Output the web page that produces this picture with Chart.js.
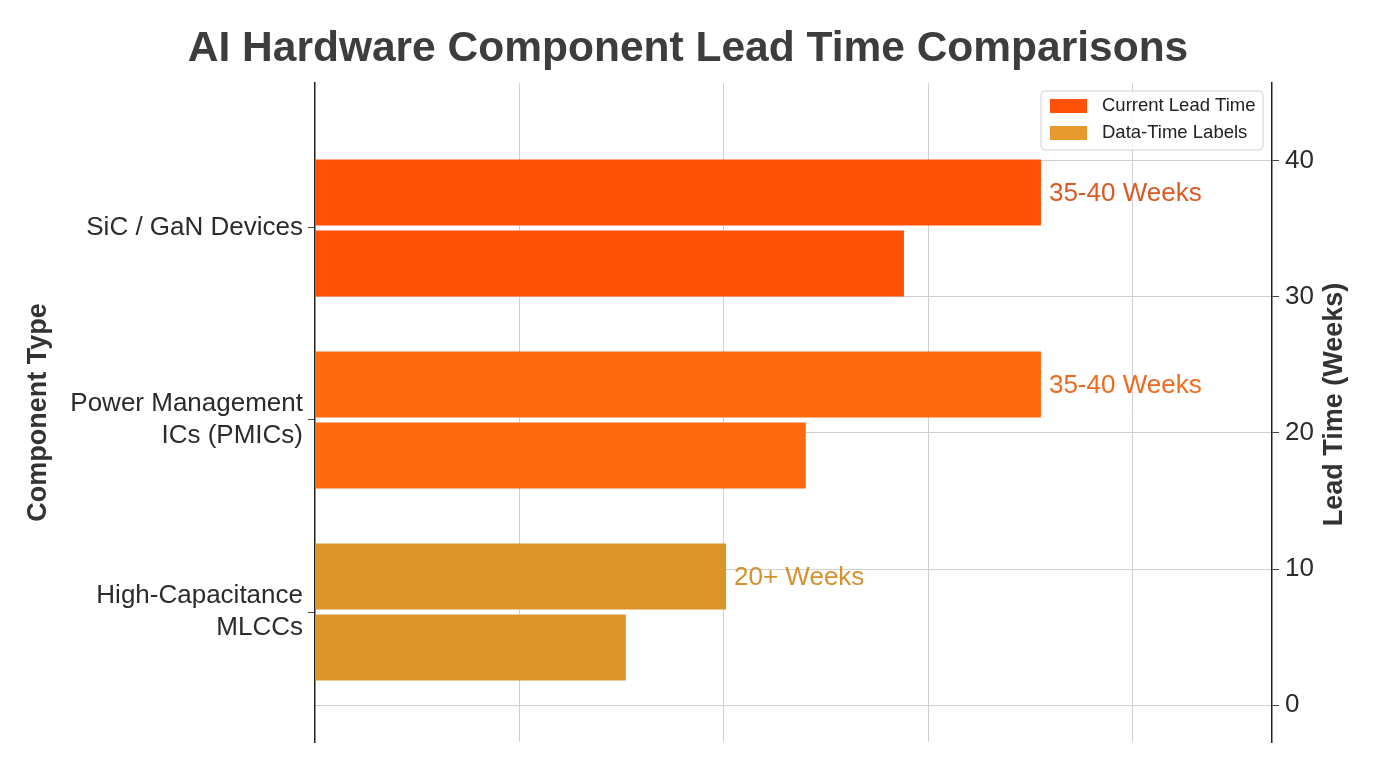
<!DOCTYPE html>
<html>
<head>
<meta charset="utf-8">
<script src="https://cdn.jsdelivr.net/npm/chart.js@4.4.1/dist/chart.umd.min.js"></script>
<style>
  html, body { margin: 0; padding: 0; background: #fff; }
  #wrap { width: 1376px; height: 768px; }
</style>
</head>
<body>
<div id="wrap"><canvas id="chart1"></canvas></div>
<script>
// values
const categories = ['SiC / GaN Devices', 'Power Management\nICs (PMICs)', 'High-Capacitance\nMLCCs'];
const currentLead = [35.5, 35.5, 20.1];
const dataTimeLead = [28.8, 24.0, 15.2];
const leadLabels = ['35-40 Weeks', '35-40 Weeks', '20+ Weeks'];
const weekTicks = [0, 10, 20, 30, 40];
const gridTicks = [10, 20, 30, 40];
const barColors = ['#FF5005', '#FF6A0D', '#DC9429'];
const labelColors = ['#DA5A22', '#EE6A1E', '#D4922E'];
const legendNames = ['Current Lead Time', 'Data-Time Labels'];
const legendColors = ['#FF5208', '#E69A2E'];

const FONT = '"Liberation Sans", Arial, Helvetica, sans-serif';

// extra text: value labels, legend box, right axis title
const extras = {
    id: 'extras',
    afterDatasetsDraw(chart) {
        const ctx = chart.ctx;
        const area = chart.chartArea;
        const meta = chart.getDatasetMeta(0);
        ctx.save();

        ctx.font = '26px ' + FONT;
        ctx.textBaseline = 'middle';
        ctx.textAlign = 'left';
        meta.data.forEach((bar, i) => {
            ctx.fillStyle = labelColors[i];
            ctx.fillText(leadLabels[i], bar.x + 8, bar.y + 1);
        });

        // legend
        const bw = 222, bh = 59;
        const bx = area.right - 9 - bw;
        const by = area.top + 8;
        ctx.beginPath();
        ctx.roundRect(bx, by, bw, bh, 4);
        ctx.fillStyle = 'rgba(255,255,255,0.85)';
        ctx.fill();
        ctx.strokeStyle = '#d2d2d2';
        ctx.lineWidth = 1;
        ctx.stroke();
        ctx.font = '18.5px ' + FONT;
        legendNames.forEach((name, i) => {
            const cy = by + 15 + i * 27;
            ctx.fillStyle = legendColors[i];
            ctx.fillRect(bx + 9, cy - 7, 37, 14);
            ctx.fillStyle = '#222';
            ctx.fillText(name, bx + 61, cy);
        });

        // right axis title, reading upwards
        ctx.translate(area.right + 63, (area.top + area.bottom) / 2 - 8);
        ctx.rotate(-Math.PI / 2);
        ctx.textAlign = 'center';
        ctx.font = 'bold 27px ' + FONT;
        ctx.fillStyle = '#333';
        ctx.fillText('Lead Time (Weeks)', 0, 0);
        ctx.restore();
    }
};

const data = {
    datasets: [
        {
            label: legendNames[0],
            data: currentLead.map((v, i) => ({ x: v, y: i })),
            backgroundColor: barColors,
            borderWidth: 0,
            yAxisID: 'y'
        },
        {
            label: legendNames[1],
            data: dataTimeLead.map((v, i) => ({ x: v, y: i })),
            backgroundColor: barColors,
            borderWidth: 0,
            yAxisID: 'y'
        }
    ]
};

const options = {
    indexAxis: 'y',
    responsive: true,
    maintainAspectRatio: false,
    animation: false,
    layout: { padding: 0 },
    categoryPercentage: 0.74,
    barPercentage: 0.93,
    plugins: {
        legend: { display: false },
        tooltip: { enabled: false },
        title: {
            display: true,
            text: 'AI Hardware Component Lead Time Comparisons',
            color: '#3d3d3d',
            font: { family: FONT, size: 42.5, weight: 'bold', lineHeight: 1.2 },
            padding: { top: 24, bottom: 8 }
        }
    },
    scales: {
        x: {
            type: 'linear',
            min: 0,
            max: 46.8,
            afterBuildTicks: (s) => { s.ticks = gridTicks.map(v => ({ value: v })); },
            afterFit: (s) => { s.height = 26; },
            ticks: { display: false },
            grid: { color: '#d0d0d0', lineWidth: 1, drawTicks: false },
            border: { display: false }
        },
        y: {
            type: 'linear',
            position: 'left',
            reverse: true,
            offset: false,
            min: -0.755,
            max: 2.677,
            afterBuildTicks: (s) => { s.ticks = categories.map((c, i) => ({ value: i })); },
            afterFit: (s) => { s.width = 315; },
            ticks: {
                color: '#2b2b2b',
                padding: 5,
                font: { family: FONT, size: 26, lineHeight: 1.22 },
                callback: (v) => categories[v] ? categories[v].split('\n') : ''
            },
            grid: { offset: false, drawOnChartArea: false, tickLength: 7, tickColor: '#444', lineWidth: 1 },
            border: { color: '#222', width: 1.5 },
            title: {
                display: true,
                text: 'Component Type',
                color: '#333',
                font: { family: FONT, size: 27, weight: 'bold', lineHeight: 1.2 },
                padding: { top: 22, bottom: 0 }
            }
        },
        y2: {
            type: 'linear',
            position: 'right',
            offset: false,
            min: -2.7,
            max: 45.7,
            afterBuildTicks: (s) => { s.ticks = weekTicks.map(v => ({ value: v })); },
            afterFit: (s) => { s.width = 104; },
            ticks: {
                color: '#2b2b2b',
                padding: 6,
                font: { family: FONT, size: 26 }
            },
            grid: { offset: false, color: '#d0d0d0', lineWidth: 1, tickLength: 7, tickColor: '#444' },
            border: { color: '#222', width: 1.5 }
        }
    }
};

const ctx = document.getElementById('chart1').getContext('2d');
const myChart = new Chart(ctx, {
    type: 'bar',
    data: data,
    options: options,
    plugins: [extras]
});
</script>
</body>
</html>
